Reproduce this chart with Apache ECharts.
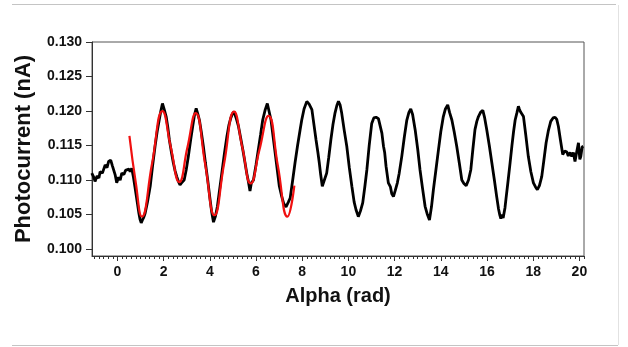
<!DOCTYPE html>
<html>
<head>
<meta charset="utf-8">
<script src="https://cdn.jsdelivr.net/npm/echarts@6/dist/echarts.min.js"></script>
<style>
  html, body { margin: 0; padding: 0; background: #fff; }
  #chart { width: 628px; height: 347px; }
</style>
</head>
<body>
<div id="chart"></div>
<script>
// measured photocurrent vs alpha
const alphaValues = [
  -1.11, -1.02, -0.97, -0.88, -0.80, -0.75, -0.65, -0.53, -0.45, -0.38,
  -0.29, -0.22, -0.17, -0.10, -0.03, 0.05, 0.12, 0.19, 0.28, 0.35,
  0.41, 0.50, 0.55, 0.62, 0.69, 0.76, 0.84, 0.93, 0.98, 1.03,
  1.08, 1.14, 1.20, 1.30, 1.42, 1.52, 1.63, 1.72, 1.81, 1.88,
  1.95, 2.02, 2.11, 2.18, 2.25, 2.34, 2.42, 2.50, 2.57, 2.64,
  2.71, 2.80, 2.89, 2.98, 3.07, 3.17, 3.26, 3.34, 3.41, 3.48,
  3.55, 3.63, 3.72, 3.81, 3.91, 4.00, 4.08, 4.16, 4.24, 4.33,
  4.42, 4.52, 4.63, 4.74, 4.83, 4.91, 4.98, 5.05, 5.14, 5.24,
  5.33, 5.43, 5.52, 5.60, 5.67, 5.74, 5.80, 5.89, 6.00, 6.10,
  6.20, 6.29, 6.40, 6.49, 6.57, 6.65, 6.74, 6.83, 6.92, 7.01,
  7.10, 7.20, 7.30, 7.40, 7.48, 7.58, 7.69, 7.80, 7.91, 7.98,
  8.08, 8.20, 8.30, 8.42, 8.51, 8.60, 8.68, 8.74, 8.80, 8.87,
  8.96, 9.06, 9.15, 9.24, 9.33, 9.42, 9.50, 9.57, 9.64, 9.71,
  9.82, 9.93, 10.04, 10.15, 10.25, 10.33, 10.43, 10.52, 10.62, 10.71,
  10.80, 10.90, 11.01, 11.10, 11.20, 11.30, 11.37, 11.45, 11.52, 11.57,
  11.63, 11.73, 11.82, 11.88, 11.95, 12.03, 12.12, 12.20, 12.31, 12.42,
  12.53, 12.62, 12.70, 12.78, 12.89, 13.00, 13.10, 13.21, 13.32, 13.42,
  13.51, 13.60, 13.68, 13.79, 13.90, 14.00, 14.11, 14.20, 14.30, 14.38,
  14.48, 14.58, 14.69, 14.80, 14.91, 15.00, 15.10, 15.20, 15.30, 15.39,
  15.48, 15.56, 15.63, 15.72, 15.82, 15.90, 15.99, 16.10, 16.21, 16.32,
  16.42, 16.50, 16.55, 16.60, 16.64, 16.70, 16.78, 16.82, 16.90, 17.00,
  17.08, 17.15, 17.22, 17.30, 17.36, 17.40, 17.45, 17.50, 17.58, 17.68,
  17.79, 17.90, 18.01, 18.10, 18.18, 18.27, 18.37, 18.46, 18.56, 18.66,
  18.76, 18.86, 18.95, 19.02, 19.09, 19.18, 19.28, 19.36, 19.45, 19.52,
  19.60, 19.67, 19.74, 19.81, 19.88, 19.96, 20.02, 20.06, 20.12, 20.17
]
const photocurrent = [
  0.1110, 0.1104, 0.1098, 0.1106, 0.1103, 0.1112, 0.1110, 0.1122, 0.1118, 0.1127,
  0.1129, 0.1121, 0.1120, 0.1108, 0.1096, 0.1104, 0.1100, 0.1110, 0.1108, 0.1114,
  0.1112, 0.1116, 0.1112, 0.1117, 0.1105, 0.1090, 0.1072, 0.1052, 0.1043, 0.1038,
  0.1042, 0.1046, 0.1052, 0.1068, 0.1091, 0.1120, 0.1149, 0.1170, 0.1187, 0.1200,
  0.1211, 0.1203, 0.1192, 0.1177, 0.1158, 0.1140, 0.1125, 0.1113, 0.1105, 0.1098,
  0.1093, 0.1097, 0.1100, 0.1115, 0.1134, 0.1158, 0.1178, 0.1195, 0.1204, 0.1196,
  0.1187, 0.1170, 0.1149, 0.1125, 0.1100, 0.1075, 0.1054, 0.1039, 0.1047, 0.1062,
  0.1085, 0.1110, 0.1138, 0.1163, 0.1180, 0.1190, 0.1196, 0.1199, 0.1190, 0.1178,
  0.1162, 0.1144, 0.1126, 0.1110, 0.1098, 0.1084, 0.1096, 0.1100, 0.1122, 0.1144,
  0.1166, 0.1187, 0.1202, 0.1211, 0.1199, 0.1187, 0.1163, 0.1139, 0.1115, 0.1091,
  0.1078, 0.1066, 0.1061, 0.1068, 0.1074, 0.1098, 0.1125, 0.1150, 0.1173, 0.1187,
  0.1203, 0.1214, 0.1210, 0.1202, 0.1180, 0.1158, 0.1140, 0.1125, 0.1108, 0.1091,
  0.1100, 0.1110, 0.1133, 0.1158, 0.1180, 0.1197, 0.1208, 0.1214, 0.1209, 0.1197,
  0.1172, 0.1149, 0.1118, 0.1091, 0.1068, 0.1057, 0.1047, 0.1055, 0.1067, 0.1090,
  0.1115, 0.1150, 0.1182, 0.1190, 0.1191, 0.1189, 0.1187, 0.1168, 0.1149, 0.1140,
  0.1120, 0.1096, 0.1090, 0.1080, 0.1076, 0.1085, 0.1096, 0.1110, 0.1134, 0.1162,
  0.1187, 0.1198, 0.1203, 0.1195, 0.1173, 0.1145, 0.1115, 0.1088, 0.1062, 0.1050,
  0.1042, 0.1062, 0.1086, 0.1115, 0.1144, 0.1170, 0.1192, 0.1203, 0.1209, 0.1198,
  0.1187, 0.1170, 0.1149, 0.1125, 0.1100, 0.1095, 0.1092, 0.1100, 0.1115, 0.1145,
  0.1173, 0.1185, 0.1192, 0.1198, 0.1201, 0.1190, 0.1173, 0.1150, 0.1125, 0.1100,
  0.1076, 0.1058, 0.1050, 0.1044, 0.1050, 0.1045, 0.1060, 0.1072, 0.1095, 0.1125,
  0.1150, 0.1170, 0.1187, 0.1198, 0.1207, 0.1203, 0.1199, 0.1200, 0.1192, 0.1165,
  0.1134, 0.1112, 0.1096, 0.1090, 0.1086, 0.1092, 0.1105, 0.1128, 0.1154, 0.1172,
  0.1185, 0.1190, 0.1191, 0.1188, 0.1178, 0.1158, 0.1137, 0.1142, 0.1141, 0.1135,
  0.1140, 0.1134, 0.1140, 0.1127, 0.1140, 0.1154, 0.1130, 0.1134, 0.1148, 0.1149
]

// fitted curve
const fitAlpha = [
  0.52, 0.80, 1.06, 1.50, 1.95, 2.31, 2.68, 3.03, 3.39, 3.80,
  4.20, 4.62, 5.05, 5.41, 5.77, 6.15, 6.54, 6.95, 7.36, 7.66
]
const fitCurrent = [
  0.1164, 0.1095, 0.1047, 0.1124, 0.1200, 0.1148, 0.1097, 0.1147, 0.1197, 0.1123,
  0.1049, 0.1124, 0.1199, 0.1147, 0.1095, 0.1144, 0.1193, 0.1120, 0.1047, 0.1092
]

const xTicks = [0, 2, 4, 6, 8, 10, 12, 14, 16, 18, 20]
const yTicks = [0.100, 0.105, 0.110, 0.115, 0.120, 0.125, 0.130]

const xMinorTicks = []
for (let i = -5; i <= 101; i++) xMinorTicks.push(+(i * 0.2).toFixed(1))

const zip = (xs, ys) => xs.map((x, i) => [x, ys[i]])

const chart = echarts.init(document.getElementById('chart'), null, { renderer: 'canvas' })

const tickColor = '#333'
const labelFont = {
  color: '#111',
  fontFamily: 'Liberation Sans, Arial, sans-serif',
  fontWeight: 'bold',
  fontSize: 14,
}

chart.setOption({
  animation: false,
  grid: {
    left: 92,
    right: 44,
    top: 42,
    bottom: 91,
    show: true,
    borderColor: '#555',
    borderWidth: 1,
  },
  xAxis: [
    {
      type: 'value',
      min: -1.1,
      max: 20.2,
      name: 'Alpha (rad)',
      nameLocation: 'middle',
      nameGap: 30,
      nameTextStyle: { ...labelFont, fontSize: 20 },
      axisLine: { onZero: false, lineStyle: { color: tickColor } },
      axisTick: { customValues: xTicks, length: 5, lineStyle: { color: tickColor } },
      axisLabel: { ...labelFont, customValues: xTicks, margin: 9 },
      splitLine: { show: false },
    },
    {
      type: 'value',
      min: -1.1,
      max: 20.2,
      position: 'bottom',
      axisLine: { show: false, onZero: false },
      axisTick: { customValues: xMinorTicks, length: 3, lineStyle: { color: tickColor } },
      axisLabel: { show: false },
      splitLine: { show: false },
    },
  ],
  yAxis: {
    type: 'value',
    min: 0.099,
    max: 0.130,
    name: 'Photocurrent (nA)',
    nameLocation: 'middle',
    nameGap: 57,
    nameTextStyle: { ...labelFont, fontSize: 22 },
    axisLine: { show: true, onZero: false, lineStyle: { color: tickColor } },
    axisTick: { show: true, customValues: yTicks, length: 6, lineStyle: { color: tickColor } },
    axisLabel: {
      ...labelFont,
      customValues: yTicks,
      margin: 10,
      formatter: v => v.toFixed(3),
    },
    splitLine: { show: false },
  },
  series: [
    {
      name: 'data',
      type: 'line',
      data: zip(alphaValues, photocurrent),
      showSymbol: false,
      lineStyle: { color: '#000', width: 2.8 },
      z: 2,
    },
    {
      name: 'fit',
      type: 'line',
      data: zip(fitAlpha, fitCurrent),
      showSymbol: false,
      smooth: 0.5,
      lineStyle: { color: '#f01010', width: 2.2 },
      z: 3,
    },
  ],
  graphic: [
    { type: 'line', shape: { x1: 12, y1: 4.5, x2: 616, y2: 4.5 }, style: { stroke: '#c4c4c4', lineWidth: 1 } },
    { type: 'line', shape: { x1: 618.5, y1: 5, x2: 618.5, y2: 345 }, style: { stroke: '#e2e2e2', lineWidth: 1 } },
    { type: 'line', shape: { x1: 12, y1: 345.5, x2: 618, y2: 345.5 }, style: { stroke: '#c4c4c4', lineWidth: 1 } },
  ],
})
</script>
</body>
</html>
